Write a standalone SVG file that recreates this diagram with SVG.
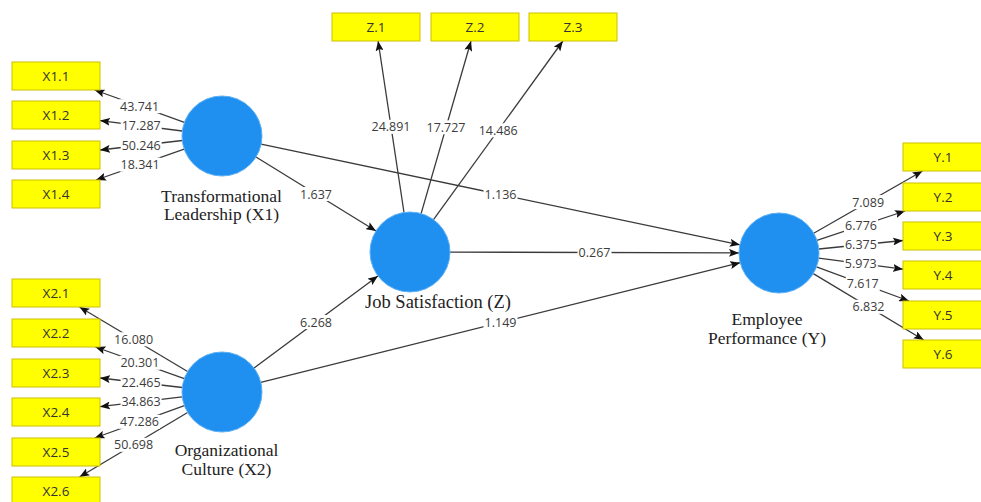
<svg xmlns="http://www.w3.org/2000/svg" width="981" height="502" viewBox="0 0 981 502">
<style>
.bg{fill:#ffffff}
.ln{stroke:#3a3a3a;stroke-width:1.3;fill:none;marker-end:url(#ah)}
.lb{fill:#ffffff}
.lt{font-family:'Open Sans','Liberation Sans',sans-serif;font-size:12.5px;fill:#3c3c3c;text-anchor:middle}
.bx{fill:#ffff00;stroke:#cdbf00;stroke-width:1}
.bt{font-family:'Open Sans','Liberation Sans',sans-serif;font-size:13.5px;fill:#333333;text-anchor:middle}
.cv{fill:#1f8ff0;stroke:#5db0f5;stroke-width:1}
.nt{font-family:'Liberation Serif','Times New Roman',serif;font-size:17.5px;fill:#222222;text-anchor:middle}
.big{font-size:18.5px}
</style>
<defs>
<marker id="ah" viewBox="0 0 10 8" refX="10" refY="4" markerWidth="10" markerHeight="8" orient="auto" markerUnits="userSpaceOnUse">
<path d="M0,0 L10,4 L0,8 L2,4 Z" fill="#111111"/>
</marker>
</defs>
<rect class="bg" x="0" y="0" width="981" height="502"/>

<g id="connectors">
<path class="ln" d="M184.4,122.4 L94.7,90"/>
<path class="ln" d="M182.3,131 L100,120.6"/>
<path class="ln" d="M182.3,140.5 L100,150"/>
<path class="ln" d="M184.2,149.2 L96,180"/>
<path class="ln" d="M187.6,371.5 L79.5,307"/>
<path class="ln" d="M184.3,378.6 L95.4,347"/>
<path class="ln" d="M182.3,387.5 L100,378"/>
<path class="ln" d="M182.3,396.8 L100,406.7"/>
<path class="ln" d="M184.4,405.6 L94.7,438"/>
<path class="ln" d="M187.6,412.5 L79.5,477"/>
<path class="ln" d="M404,212.5 L378.1,41"/>
<path class="ln" d="M421.1,213.6 L471,41"/>
<path class="ln" d="M433.5,219.6 L562.9,41"/>
<path class="ln" d="M813.7,233.2 L922.5,171"/>
<path class="ln" d="M816.9,240.4 L905,211"/>
<path class="ln" d="M818.8,249 L903,240.5"/>
<path class="ln" d="M818.7,258.2 L903,269.2"/>
<path class="ln" d="M816.5,266.8 L909,301"/>
<path class="ln" d="M813.3,273.6 L923.7,340"/>
<path class="ln" d="M256,157 L376,231"/>
<path class="ln" d="M261.1,144.2 L739.9,244.8"/>
<path class="ln" d="M450,252.1 L739,252.9"/>
<path class="ln" d="M254.1,368.1 L377.9,275.9"/>
<path class="ln" d="M260.8,382.3 L740.2,262.7"/>

<rect class="lb" x="119.1" y="99.2" width="41" height="14"/><text class="lt" x="139.6" y="110.7">43.741</text>
<rect class="lb" x="120.7" y="118.8" width="41" height="14"/><text class="lt" x="141.2" y="130.3">17.287</text>
<rect class="lb" x="120.7" y="138.2" width="41" height="14"/><text class="lt" x="141.2" y="149.7">50.246</text>
<rect class="lb" x="119.6" y="157.6" width="41" height="14"/><text class="lt" x="140.1" y="169.1">18.341</text>

<rect class="lb" x="113.1" y="332.3" width="41" height="14"/><text class="lt" x="133.6" y="343.8">16.080</text>
<rect class="lb" x="119.4" y="355.8" width="41" height="14"/><text class="lt" x="139.9" y="367.3">20.301</text>
<rect class="lb" x="120.6" y="375.8" width="41" height="14"/><text class="lt" x="141.1" y="387.3">22.465</text>
<rect class="lb" x="120.6" y="394.8" width="41" height="14"/><text class="lt" x="141.1" y="406.3">34.863</text>
<rect class="lb" x="119" y="414.8" width="41" height="14"/><text class="lt" x="139.5" y="426.3">47.286</text>
<rect class="lb" x="113.1" y="437.8" width="41" height="14"/><text class="lt" x="133.6" y="449.3">50.698</text>

<rect class="lb" x="370.5" y="119.8" width="41" height="14"/><text class="lt" x="391" y="131.3">24.891</text>
<rect class="lb" x="425.5" y="120.3" width="41" height="14"/><text class="lt" x="446" y="131.8">17.727</text>
<rect class="lb" x="477.7" y="123.3" width="41" height="14"/><text class="lt" x="498.2" y="134.8">14.486</text>

<rect class="lb" x="851.1" y="195.1" width="34" height="14"/><text class="lt" x="868.1" y="206.6">7.089</text>
<rect class="lb" x="844" y="218.7" width="34" height="14"/><text class="lt" x="861" y="230.2">6.776</text>
<rect class="lb" x="843.9" y="237.8" width="34" height="14"/><text class="lt" x="860.9" y="249.3">6.375</text>
<rect class="lb" x="843.8" y="256.7" width="34" height="14"/><text class="lt" x="860.8" y="268.2">5.973</text>
<rect class="lb" x="845.8" y="276.9" width="34" height="14"/><text class="lt" x="862.8" y="288.4">7.617</text>
<rect class="lb" x="851.5" y="299.8" width="34" height="14"/><text class="lt" x="868.5" y="311.3">6.832</text>

<rect class="lb" x="299" y="187" width="34" height="14"/><text class="lt" x="316" y="198.5">1.637</text>
<rect class="lb" x="483.5" y="187.5" width="34" height="14"/><text class="lt" x="500.5" y="199">1.136</text>
<rect class="lb" x="577.5" y="245.5" width="34" height="14"/><text class="lt" x="594.5" y="257">0.267</text>
<rect class="lb" x="299" y="315" width="34" height="14"/><text class="lt" x="316" y="326.5">6.268</text>
<rect class="lb" x="483.5" y="315.5" width="34" height="14"/><text class="lt" x="500.5" y="327">1.149</text>
</g>

<g id="X1">
<circle class="cv" cx="222" cy="136" r="40"/>
<text class="nt" x="221.5" y="202">Transformational</text>
<text class="nt" x="221.5" y="220">Leadership (X1)</text>
</g>
<g id="X2">
<circle class="cv" cx="222" cy="392" r="40"/>
<text class="nt" x="226.5" y="456">Organizational</text>
<text class="nt" x="226.5" y="475">Culture (X2)</text>
</g>
<g id="Z">
<circle class="cv" cx="410" cy="252" r="40"/>
<text class="nt big" x="438" y="308">Job Satisfaction (Z)</text>
</g>
<g id="Y">
<circle class="cv" cx="779" cy="253" r="40"/>
<text class="nt" x="767" y="325">Employee</text>
<text class="nt" x="767" y="344">Performance (Y)</text>
</g>

<g id="X1.1"><rect class="bx" x="12" y="62" width="88" height="28"/><text class="bt" x="56" y="81">X1.1</text></g>
<g id="X1.2"><rect class="bx" x="12" y="101" width="88" height="28"/><text class="bt" x="56" y="120">X1.2</text></g>
<g id="X1.3"><rect class="bx" x="12" y="141" width="88" height="28"/><text class="bt" x="56" y="160">X1.3</text></g>
<g id="X1.4"><rect class="bx" x="12" y="180" width="88" height="28"/><text class="bt" x="56" y="199">X1.4</text></g>

<g id="X2.1"><rect class="bx" x="12" y="279" width="88" height="28"/><text class="bt" x="56" y="298">X2.1</text></g>
<g id="X2.2"><rect class="bx" x="12" y="319" width="88" height="28"/><text class="bt" x="56" y="338">X2.2</text></g>
<g id="X2.3"><rect class="bx" x="12" y="359" width="88" height="28"/><text class="bt" x="56" y="378">X2.3</text></g>
<g id="X2.4"><rect class="bx" x="12" y="398" width="88" height="28"/><text class="bt" x="56" y="417">X2.4</text></g>
<g id="X2.5"><rect class="bx" x="12" y="438" width="88" height="28"/><text class="bt" x="56" y="457">X2.5</text></g>
<g id="X2.6"><rect class="bx" x="12" y="477" width="88" height="28"/><text class="bt" x="56" y="496">X2.6</text></g>

<g id="Z.1"><rect class="bx" x="332" y="13" width="88" height="28"/><text class="bt" x="376" y="32">Z.1</text></g>
<g id="Z.2"><rect class="bx" x="431" y="13" width="88" height="28"/><text class="bt" x="475" y="32">Z.2</text></g>
<g id="Z.3"><rect class="bx" x="529" y="13" width="88" height="28"/><text class="bt" x="573" y="32">Z.3</text></g>

<g id="Y.1"><rect class="bx" x="903" y="143" width="88" height="28"/><text class="bt" x="943" y="162">Y.1</text></g>
<g id="Y.2"><rect class="bx" x="903" y="183" width="88" height="28"/><text class="bt" x="943" y="202">Y.2</text></g>
<g id="Y.3"><rect class="bx" x="903" y="222" width="88" height="28"/><text class="bt" x="943" y="241">Y.3</text></g>
<g id="Y.4"><rect class="bx" x="903" y="261" width="88" height="28"/><text class="bt" x="943" y="280">Y.4</text></g>
<g id="Y.5"><rect class="bx" x="903" y="301" width="88" height="28"/><text class="bt" x="943" y="320">Y.5</text></g>
<g id="Y.6"><rect class="bx" x="903" y="340" width="88" height="28"/><text class="bt" x="943" y="359">Y.6</text></g>
</svg>
